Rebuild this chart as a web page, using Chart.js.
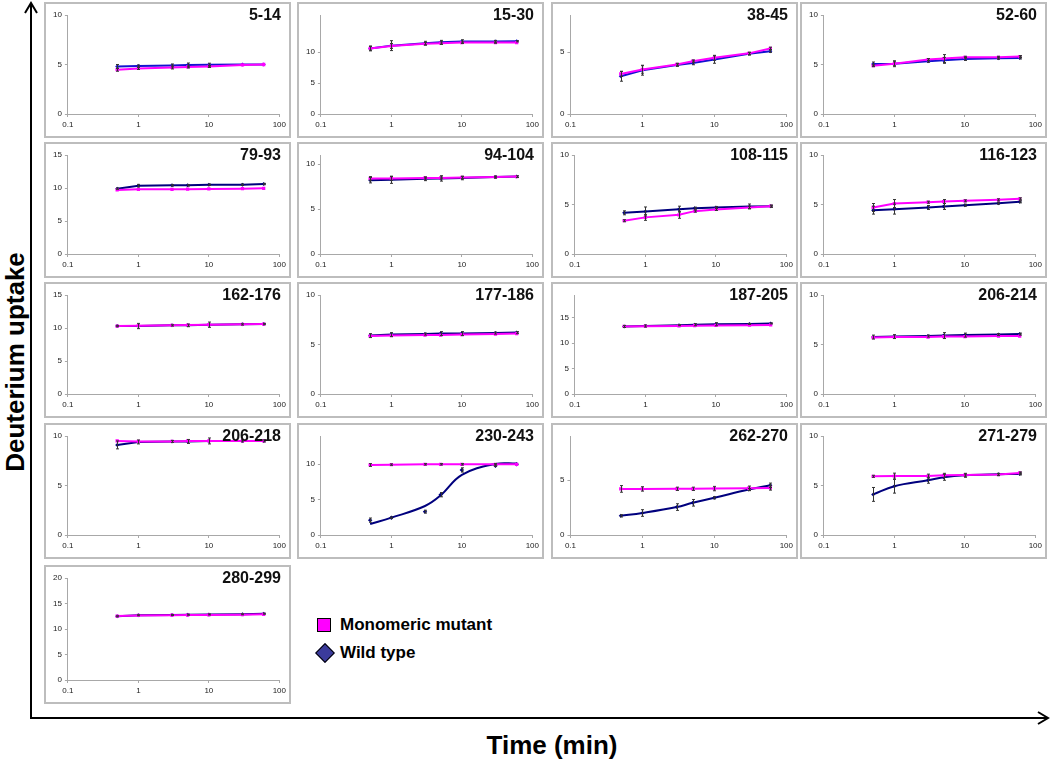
<!DOCTYPE html>
<html>
<head>
<meta charset="utf-8">
<script src="https://cdn.jsdelivr.net/npm/chart.js@4.4.0/dist/chart.umd.min.js"></script>
<style>
  body { margin: 0; width: 1050px; height: 759px; background: #fff; position: relative; overflow: hidden;
         font-family: "Liberation Sans", Arial, sans-serif; }
  .panel { position: absolute; box-sizing: border-box; border: 2px solid #bdbdbd; background: #fff; }
  .panel canvas { display: block; }
  .ptitle { position: absolute; right: 8px; top: 1px; font-weight: bold; font-size: 16px; color: #111; line-height: 20px; }
  .lab { position: absolute; font-weight: bold; color: #000; white-space: nowrap; }
  .legtxt { position: absolute; font-weight: bold; font-size: 17px; color: #000; white-space: nowrap; line-height: 20px; }
  #axes { position: absolute; left: 0; top: 0; }
</style>
</head>
<body>
<svg id="axes" width="1050" height="759">
  <line x1="31" y1="718" x2="31" y2="3" stroke="#000" stroke-width="2"/>
  <polyline points="25,13 31,3 37,13" fill="none" stroke="#000" stroke-width="2"/>
  <line x1="30" y1="718" x2="1047" y2="718" stroke="#000" stroke-width="2"/>
  <polyline points="1038,712 1048,718 1038,724" fill="none" stroke="#000" stroke-width="2"/>
</svg>
<div class="lab" style="left:15px;top:362px;font-size:26px;transform:translate(-50%,-50%) rotate(-90deg);">Deuterium uptake</div>
<div class="lab" style="left:552px;top:745px;font-size:26px;transform:translate(-50%,-50%);">Time (min)</div>

<div style="position:absolute;left:317px;top:618px;width:12px;height:12px;background:#ff00ff;border:1px solid #000;"></div>
<div class="legtxt" style="left:340px;top:615px;">Monomeric mutant</div>
<div style="position:absolute;left:318px;top:646px;width:12px;height:12px;background:#3b3b9c;border:1px solid #000;transform:rotate(45deg);"></div>
<div class="legtxt" style="left:340px;top:643px;">Wild type</div>

<script>
const times = [0.5, 1, 3, 5, 10, 30, 60];
const peptides = ['5-14', '15-30', '38-45', '52-60', '79-93', '94-104', '108-115', '116-123',
  '162-176', '177-186', '187-205', '206-214', '206-218', '230-243', '262-270', '271-279', '280-299'];
const yMax = [10, 16, 8, 10, 15, 11, 10, 10, 15, 10, 19.5, 10, 10, 14, 9, 10, 20];

const mutant = [
  [4.47, 4.6, 4.7, 4.75, 4.8, 4.95, 5.0],
  [10.6, 11.0, 11.35, 11.45, 11.55, 11.55, 11.55],
  [3.24, 3.6, 4.0, 4.27, 4.54, 4.9, 5.3],
  [4.88, 5.08, 5.5, 5.6, 5.73, 5.73, 5.8],
  [9.7, 9.8, 9.8, 9.82, 9.85, 9.9, 9.95],
  [8.4, 8.4, 8.45, 8.45, 8.5, 8.55, 8.6],
  [3.36, 3.7, 3.96, 4.33, 4.5, 4.7, 4.83],
  [4.7, 5.1, 5.23, 5.3, 5.37, 5.47, 5.57],
  [10.3, 10.35, 10.4, 10.45, 10.5, 10.55, 10.6],
  [5.85, 5.9, 5.95, 5.95, 6.0, 6.05, 6.1],
  [13.3, 13.35, 13.4, 13.45, 13.5, 13.55, 13.6],
  [5.7, 5.75, 5.75, 5.8, 5.8, 5.85, 5.85],
  [9.5, 9.45, 9.45, 9.5, 9.5, 9.5, 9.5],
  [9.9, 9.95, 10.0, 10.0, 10.0, 10.0, 10.0],
  [4.19, 4.19, 4.2, 4.2, 4.22, 4.25, 4.28],
  [5.93, 5.95, 5.95, 6.03, 6.05, 6.1, 6.27],
  [12.53, 12.67, 12.7, 12.73, 12.75, 12.8, 12.87]
];
const wildType = [
  [4.8, 4.85, 4.9, 4.95, 4.98, 5.0, 5.0],
  [10.6, 11.05, 11.45, 11.6, 11.7, 11.7, 11.75],
  [3.05, 3.54, 3.95, 4.13, 4.4, 4.86, 5.08],
  [5.05, 5.08, 5.32, 5.42, 5.56, 5.63, 5.66],
  [9.9, 10.35, 10.4, 10.4, 10.5, 10.5, 10.6],
  [8.2, 8.25, 8.35, 8.4, 8.45, 8.55, 8.6],
  [4.16, 4.3, 4.53, 4.63, 4.7, 4.8, 4.83],
  [4.43, 4.53, 4.7, 4.8, 4.93, 5.13, 5.27],
  [10.3, 10.3, 10.4, 10.4, 10.5, 10.55, 10.6],
  [5.9, 6.0, 6.05, 6.1, 6.1, 6.15, 6.2],
  [13.3, 13.4, 13.55, 13.65, 13.75, 13.8, 13.9],
  [5.75, 5.8, 5.85, 5.9, 5.95, 6.0, 6.05],
  [9.1, 9.4, 9.45, 9.45, 9.5, 9.5, 9.5],
  [2.1, 2.45, 3.3, 5.7, 9.2, 9.8, 10.0],
  [1.74, 2.0, 2.54, 2.93, 3.38, 4.13, 4.52],
  [4.1, 4.93, 5.53, 5.83, 6.03, 6.13, 6.17],
  [12.5, 12.7, 12.75, 12.8, 12.85, 12.9, 13.0]
];
// fitted curve for 230-243 (the measured points sit off it)
const wildFit230 = [1.55, 2.45, 4.1, 5.6, 8.5, 10.05, 10.1];
const smoothPanels = ['262-270', '271-279'];

const mutantErr = [
  [0.15, 0.1, 0.15, 0.1, 0.1, 0, 0],
  [0.3, 0.4, 0.2, 0.2, 0.1, 0.1, 0],
  [0.2, 0.3, 0.1, 0.1, 0.2, 0.1, 0.1],
  [0.1, 0.2, 0.1, 0.4, 0.1, 0.1, 0.1],
  [0, 0, 0, 0, 0, 0, 0],
  [0.2, 0.2, 0.1, 0.1, 0.1, 0.1, 0],
  [0.1, 0.3, 0.35, 0.1, 0.1, 0.1, 0.1],
  [0.4, 0.4, 0.1, 0.2, 0.1, 0.1, 0.1],
  [0, 0, 0, 0, 0, 0, 0],
  [0, 0, 0, 0, 0, 0, 0],
  [0, 0, 0, 0, 0, 0, 0],
  [0, 0, 0, 0, 0, 0, 0],
  [0, 0, 0, 0, 0, 0, 0],
  [0.2, 0.1, 0.1, 0.1, 0.1, 0.1, 0],
  [0.3, 0.2, 0.15, 0.15, 0.2, 0.2, 0.2],
  [0.1, 0.3, 0.2, 0.2, 0.1, 0.1, 0.1],
  [0, 0, 0, 0, 0, 0, 0]
];
const wildErr = [
  [0.2, 0.1, 0.15, 0.2, 0.15, 0, 0],
  [0.4, 0.8, 0.3, 0.3, 0.3, 0.2, 0.1],
  [0.4, 0.4, 0.1, 0.15, 0.3, 0.1, 0.1],
  [0.2, 0.3, 0.1, 0.3, 0.15, 0.1, 0.1],
  [0.1, 0.2, 0.1, 0.1, 0.1, 0.1, 0.1],
  [0.3, 0.4, 0.2, 0.3, 0.2, 0.1, 0.1],
  [0.2, 0.45, 0.3, 0.1, 0.1, 0.25, 0.1],
  [0.4, 0.5, 0.2, 0.3, 0.1, 0.1, 0.1],
  [0.1, 0.4, 0.1, 0.2, 0.4, 0.1, 0.1],
  [0.2, 0.2, 0.1, 0.2, 0.2, 0.1, 0.1],
  [0.2, 0.2, 0.1, 0.2, 0.3, 0.1, 0.1],
  [0.2, 0.2, 0.1, 0.3, 0.2, 0.1, 0.1],
  [0.4, 0.2, 0.1, 0.2, 0.3, 0.1, 0.1],
  [0.3, 0.1, 0.2, 0.3, 0.3, 0.1, 0],
  [0.1, 0.3, 0.3, 0.3, 0.1, 0.1, 0.2],
  [0.7, 0.7, 0.3, 0.3, 0.2, 0.1, 0.1],
  [0.1, 0.1, 0.1, 0.1, 0.1, 0.1, 0.1]
];

const colLeft = [44, 297, 551, 800];
const rowTop = [2, 142, 282, 423, 565];
const panelW = 247;

const errorBars = {
    id: 'errorBars',
    afterDatasetsDraw(chart) {
        const { ctx, scales: { x, y } } = chart;
        chart.data.datasets.forEach((ds, i) => {
            if (!ds.errors || !chart.isDatasetVisible(i)) return;
            ctx.save();
            ctx.strokeStyle = '#333';
            ctx.lineWidth = 1;
            ds.data.forEach((pt, j) => {
                const e = ds.errors[j];
                if (!e || pt.y == null) return;
                const px = Math.round(x.getPixelForValue(pt.x)) + 0.5;
                const top = y.getPixelForValue(pt.y + e);
                const bot = y.getPixelForValue(pt.y - e);
                ctx.beginPath();
                ctx.moveTo(px, top); ctx.lineTo(px, bot);
                ctx.moveTo(px - 1.5, top); ctx.lineTo(px + 1.5, top);
                ctx.moveTo(px - 1.5, bot); ctx.lineTo(px + 1.5, bot);
                ctx.stroke();
            });
            ctx.restore();
        });
    }
};

const toPoints = (vals) => vals.map((v, k) => ({ x: times[k], y: v }));

peptides.forEach((name, i) => {
    const row = Math.floor(i / 4), col = i % 4;
    const h = row === 4 ? 139 : 136;
    const box = document.createElement('div');
    box.className = 'panel';
    box.style.left = colLeft[col] + 'px';
    box.style.top = rowTop[row] + 'px';
    box.style.width = panelW + 'px';
    box.style.height = h + 'px';
    const canvas = document.createElement('canvas');
    canvas.width = panelW - 4;
    canvas.height = h - 4;
    box.appendChild(canvas);
    const title = document.createElement('div');
    title.className = 'ptitle';
    title.textContent = name;
    box.appendChild(title);
    document.body.appendChild(box);

    const wildColor = row === 0 ? '#1212d0' : '#00007e';
    const datasets = [{
        label: 'Monomeric mutant',
        data: toPoints(mutant[i]),
        errors: mutantErr[i],
        borderColor: '#ff00ff',
        backgroundColor: '#ff00ff',
        borderWidth: 2,
        pointStyle: 'rect',
        pointRadius: 2.3,
        pointBorderWidth: 0
    }];
    if (name === '230-243') {
        datasets.push({
            label: 'Wild type',
            data: toPoints(wildType[i]),
            errors: wildErr[i],
            showLine: false,
            borderColor: wildColor,
            backgroundColor: wildColor,
            pointStyle: 'rectRot',
            pointRadius: 2.2,
            pointBorderWidth: 0
        }, {
            label: 'Wild type fit',
            data: toPoints(wildFit230),
            borderColor: wildColor,
            borderWidth: 2,
            pointRadius: 0,
            tension: 0.4
        });
    } else {
        datasets.push({
            label: 'Wild type',
            data: toPoints(wildType[i]),
            errors: wildErr[i],
            borderColor: wildColor,
            backgroundColor: wildColor,
            borderWidth: 2,
            pointStyle: 'rectRot',
            pointRadius: 2,
            pointBorderWidth: 0,
            tension: smoothPanels.includes(name) ? 0.4 : 0
        });
    }

    const axisGrid = { display: true, drawOnChartArea: false, drawTicks: true, tickLength: 3, color: '#a8a8a8' };
    const axisBorder = { display: true, color: '#a8a8a8', width: 1 };
    const tickFont = { family: 'Liberation Sans, Arial, sans-serif', size: 8 };

    new Chart(canvas, {
        type: 'line',
        data: { datasets },
        plugins: [errorBars],
        options: {
            responsive: false,
            animation: false,
            layout: { padding: { left: 4, right: 9, top: 11, bottom: 0 } },
            plugins: { legend: { display: false }, tooltip: { enabled: false } },
            scales: {
                x: {
                    type: 'logarithmic',
                    min: 0.1,
                    max: 100,
                    afterBuildTicks: s => { s.ticks = [0.1, 1, 10, 100].map(v => ({ value: v })); },
                    afterFit: s => { s.height = 22; },
                    ticks: { callback: v => String(v), font: tickFont, color: '#222', padding: 3, maxRotation: 0, autoSkip: false },
                    grid: axisGrid,
                    border: axisBorder
                },
                y: {
                    min: 0,
                    max: yMax[i],
                    afterBuildTicks: s => { s.ticks = s.ticks.filter(t => t.value % 5 === 0); },
                    ticks: { stepSize: 5, font: tickFont, color: '#222', padding: 3 },
                    grid: axisGrid,
                    border: axisBorder
                }
            }
        }
    });
});
</script>
</body>
</html>
